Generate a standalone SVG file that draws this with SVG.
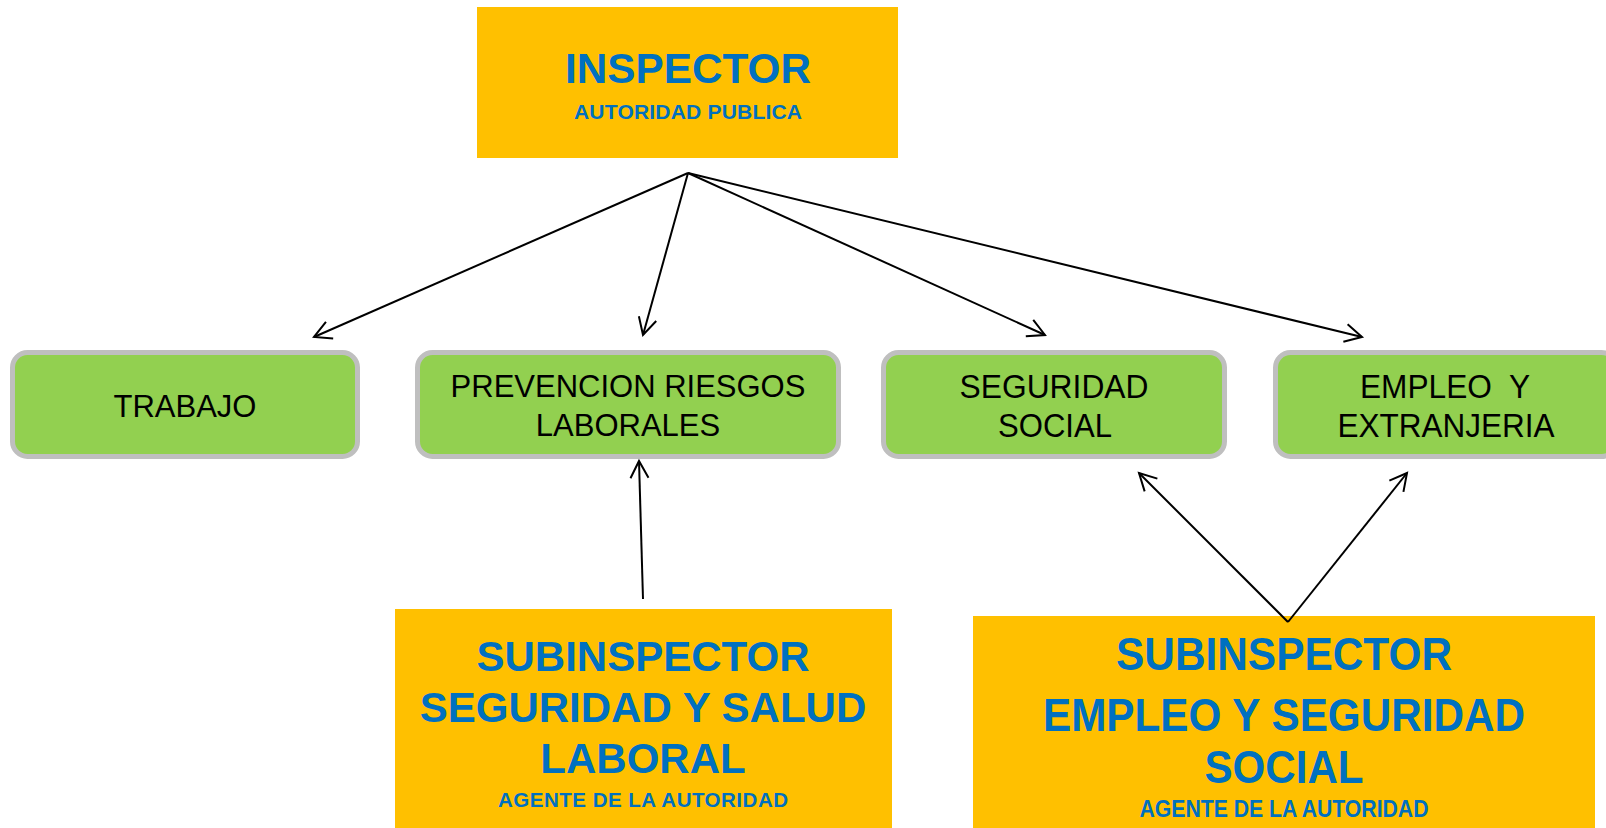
<svg xmlns="http://www.w3.org/2000/svg" width="1606" height="828" viewBox="0 0 1606 828">
<style>
.yel{fill:#FFC000}
.grn{fill:#92D050;stroke:#BFBFBF;stroke-width:5}
.bt{font-family:"Liberation Sans",Arial,sans-serif;font-weight:bold;fill:#0070C0;text-anchor:middle}
.gt{font-family:"Liberation Sans",Arial,sans-serif;fill:#000;text-anchor:middle}
.con{stroke:#000;stroke-width:2;fill:none;marker-end:url(#arr)}
</style>
<defs>
<marker id="arr" markerUnits="userSpaceOnUse" orient="auto" refX="0" refY="0" viewBox="-20 -11 22 22" markerWidth="22" markerHeight="22" overflow="visible">
<path d="M-17,-9 L0,0 L-17,9" fill="none" stroke="#000" stroke-width="2"/>
</marker>
</defs>
<rect width="1606" height="828" fill="#fff"/>
<g id="inspector">
<rect class="yel" x="477" y="7" width="421" height="151"/>
<text class="bt" x="688" y="83" font-size="42" textLength="246" lengthAdjust="spacingAndGlyphs">INSPECTOR</text>
<text class="bt" x="688" y="119" font-size="21" textLength="228">AUTORIDAD PUBLICA</text>
</g>
<g id="trabajo">
<rect class="grn" x="12.5" y="352.5" width="345" height="104" rx="15"/>
<text class="gt" x="185" y="417" font-size="31">TRABAJO</text>
</g>
<g id="prevencion">
<rect class="grn" x="417.5" y="352.5" width="421" height="104" rx="15"/>
<text class="gt" x="628" y="397" font-size="31">PREVENCION RIESGOS</text>
<text class="gt" x="628" y="436" font-size="31">LABORALES</text>
</g>
<g id="seguridad">
<rect class="grn" x="883.5" y="352.5" width="341" height="104" rx="15"/>
<text class="gt" x="1054" y="398" font-size="34" textLength="189" lengthAdjust="spacingAndGlyphs">SEGURIDAD</text>
<text class="gt" x="1055" y="437" font-size="34" textLength="114" lengthAdjust="spacingAndGlyphs">SOCIAL</text>
</g>
<g id="empleo">
<rect class="grn" x="1275.5" y="352.5" width="341" height="104" rx="15"/>
<text class="gt" x="1445" y="398" font-size="34" textLength="170" lengthAdjust="spacingAndGlyphs" xml:space="preserve">EMPLEO  Y</text>
<text class="gt" x="1446" y="437" font-size="34" textLength="217" lengthAdjust="spacingAndGlyphs">EXTRANJERIA</text>
</g>
<g id="subinspector-ssl">
<rect class="yel" x="395" y="609" width="497" height="225"/>
<text class="bt" x="643" y="671" font-size="42">SUBINSPECTOR</text>
<text class="bt" x="643" y="722" font-size="42">SEGURIDAD Y SALUD</text>
<text class="bt" x="643" y="773" font-size="42">LABORAL</text>
<text class="bt" x="643" y="807" font-size="20.5" textLength="290">AGENTE DE LA AUTORIDAD</text>
</g>
<g id="subinspector-ess">
<rect class="yel" x="973" y="616" width="622" height="220"/>
<text class="bt" x="1284" y="670" font-size="47" textLength="336" lengthAdjust="spacingAndGlyphs">SUBINSPECTOR</text>
<text class="bt" x="1284" y="731" font-size="47" textLength="482" lengthAdjust="spacingAndGlyphs">EMPLEO Y SEGURIDAD</text>
<text class="bt" x="1284" y="783" font-size="47" textLength="159" lengthAdjust="spacingAndGlyphs">SOCIAL</text>
<text class="bt" x="1284" y="817" font-size="23" textLength="289" lengthAdjust="spacingAndGlyphs">AGENTE DE LA AUTORIDAD</text>
</g>
<g id="connectors">
<line class="con" x1="688" y1="173" x2="314" y2="337"/>
<line class="con" x1="688" y1="173" x2="643" y2="335"/>
<line class="con" x1="688" y1="173" x2="1045" y2="335"/>
<line class="con" x1="688" y1="173" x2="1362" y2="337"/>
<line class="con" x1="643" y1="599" x2="639" y2="461"/>
<line class="con" x1="1288" y1="622" x2="1139" y2="473"/>
<line class="con" x1="1288" y1="622" x2="1407" y2="473"/>
</g>
</svg>
